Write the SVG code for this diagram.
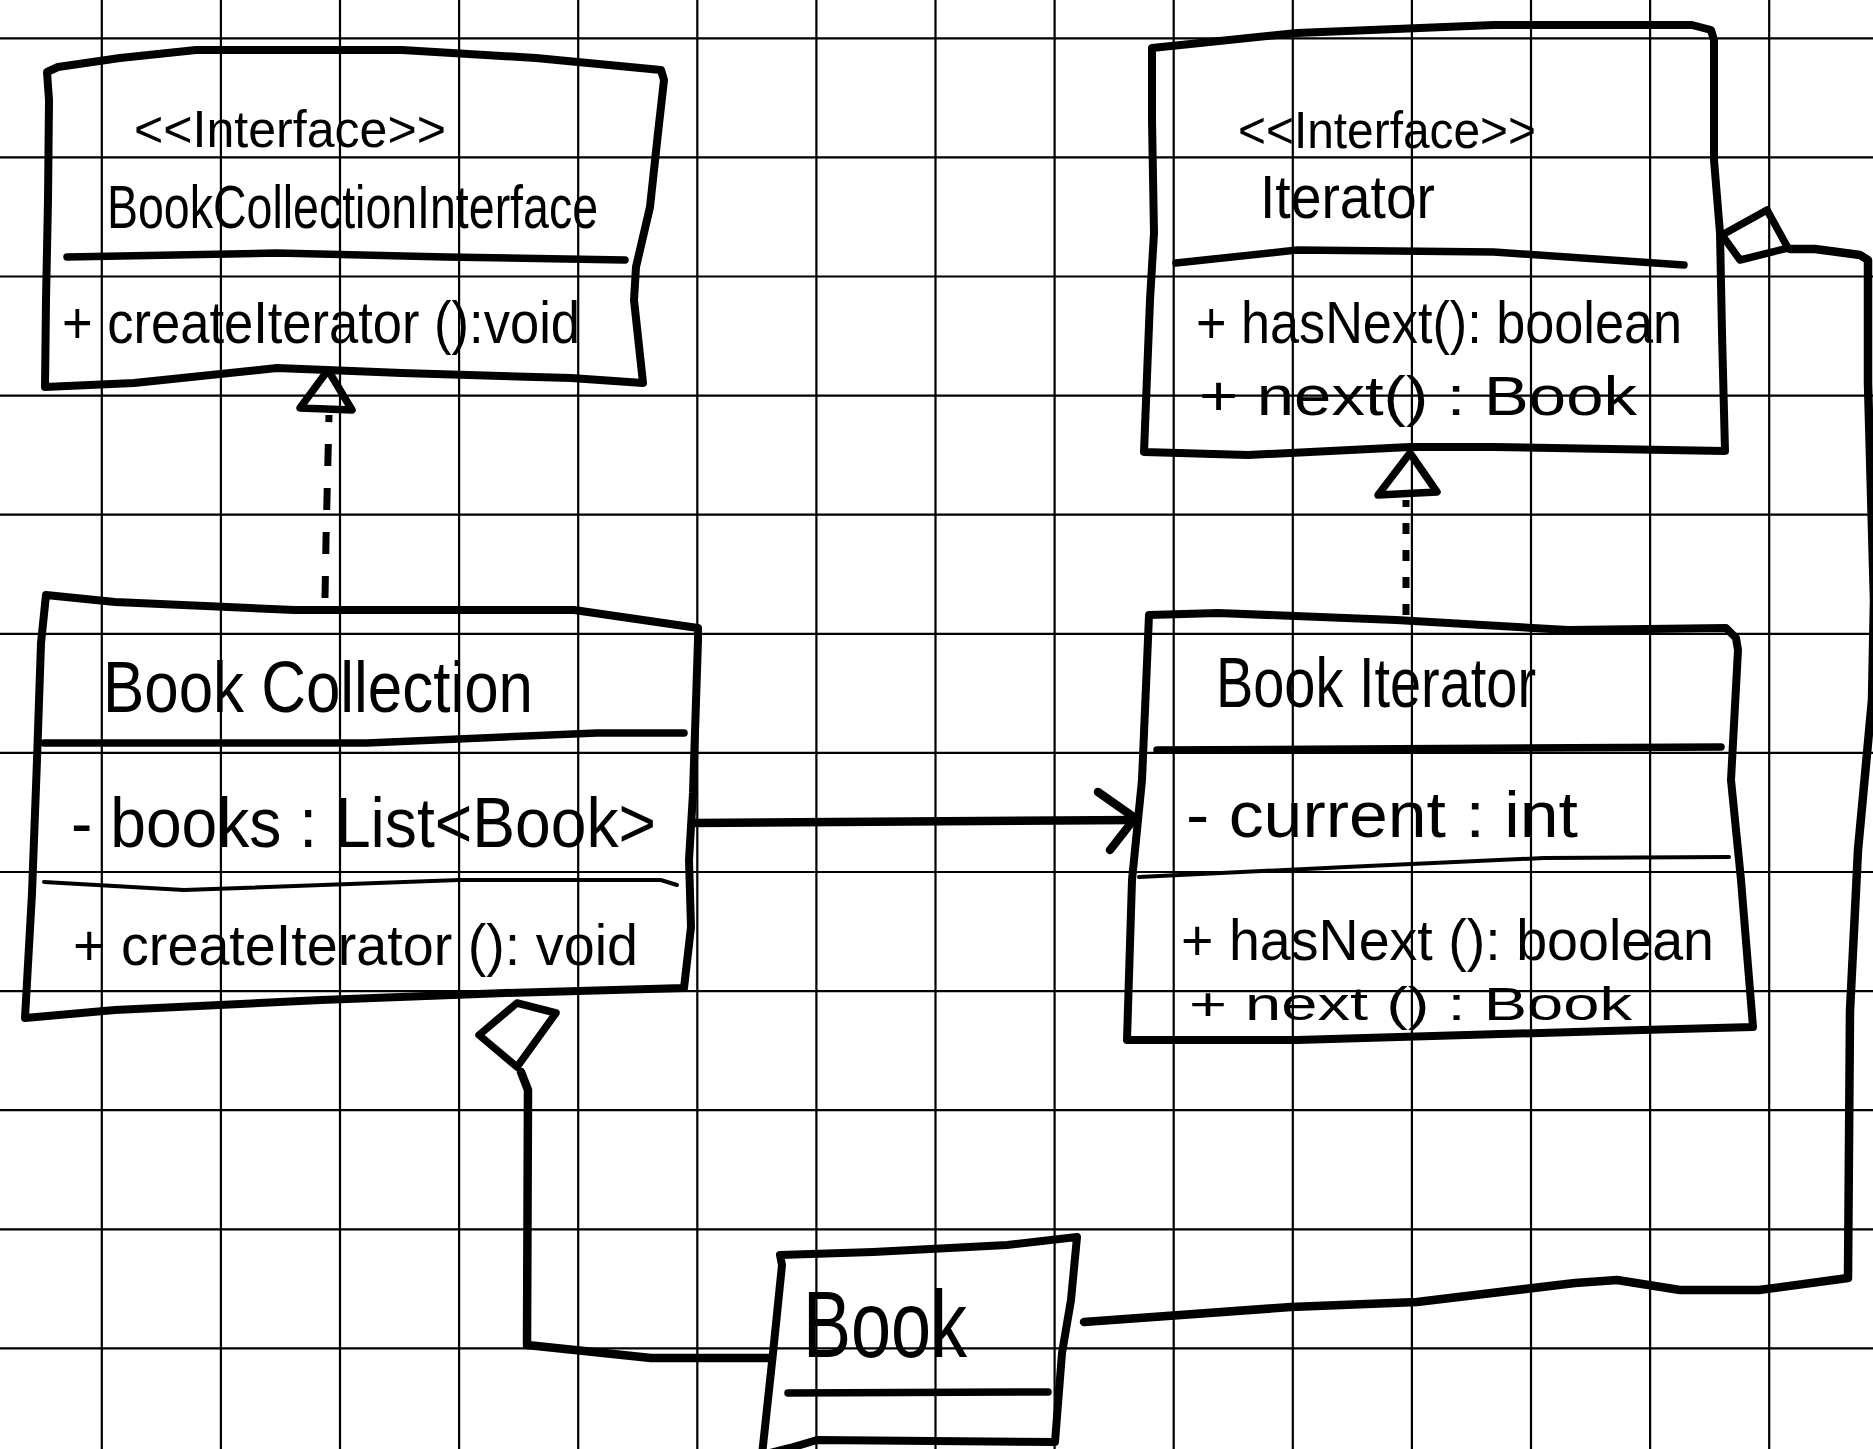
<svg xmlns="http://www.w3.org/2000/svg" width="1873" height="1449" viewBox="0 0 1873 1449">
<style>
.grid{stroke:#000;stroke-width:2.2;fill:none}
.box{stroke:#000;stroke-width:8;fill:none;stroke-linejoin:round;stroke-linecap:round}
.div{stroke:#000;stroke-width:7.5;fill:none;stroke-linecap:round}
.thin{stroke:#000;stroke-width:4;fill:none;stroke-linecap:round}
.con{stroke:#000;stroke-width:8.5;fill:none;stroke-linejoin:round;stroke-linecap:round}
.dash{stroke:#000;stroke-width:7;fill:none}
.head{stroke:#000;stroke-width:7.5;fill:none;stroke-linejoin:round;stroke-linecap:round}
text{font-family:"Liberation Sans","DejaVu Sans",sans-serif;fill:#000}
</style>
<rect width="1873" height="1449" fill="#fff"/>
<g id="grid" class="grid">
<path d="M101.8,0V1449M220.9,0V1449M340,0V1449M459.1,0V1449M578.2,0V1449M697.3,0V1449M816.4,0V1449M935.5,0V1449M1054.6,0V1449M1173.7,0V1449M1292.8,0V1449M1411.9,0V1449M1531,0V1449M1650.1,0V1449M1769.2,0V1449"/>
<path d="M0,38.3H1873M0,157.4H1873M0,276.5H1873M0,395.6H1873M0,514.7H1873M0,633.8H1873M0,752.9H1873M0,872H1873M0,991.1H1873M0,1110.2H1873M0,1229.3H1873M0,1348.4H1873"/>
</g>
<g id="connectors">
<path class="dash" d="M325,598 L326,540 L329,415" stroke-dasharray="22 22"/>
<path class="head" d="M328,370 L352,410 L300,408 Z"/>
<path class="dash" d="M1406,615 L1406,500" stroke-dasharray="11 16"/>
<path class="head" d="M1410,453 L1437,492 L1378,495 Z"/>
<path class="con" d="M693,823 L1137,820"/>
<path class="con" d="M1098,792 L1135,818 L1110,850"/>
<path class="head" d="M517,1003 L556,1013 L517,1067 L479,1035 Z"/>
<path class="con" d="M521,1072 L528,1090 L527,1345 L651,1358 L771,1358"/>
<path class="head" d="M1722,235 L1767,210 L1788,248 L1740,260 Z"/>
<path class="con" d="M1790,249 L1815,249 L1860,255 L1868,260 L1868,383 L1874,600 L1872,700 L1858,850 L1850,1011 L1848,1278 L1759,1290 L1680,1290 L1617,1280 L1575,1283 L1417,1302 L1291,1307 L1084,1322"/>
</g>
<g id="BookCollectionInterface">
<path class="box" d="M47,72 L58,67 L120,58 L196,50 L402,50 L536,58 L661,70 L664,80 L658,133 L650,207 L636,267 L634,300 L643,383 L571,378 L402,373 L277,368 L134,383 L45,387 L46,300 L48,200 L49,100 Z"/>
<path class="div" d="M67,257 L277,253 L446,257 L625,260"/>
<text x="134" y="147" font-size="52" textLength="312" lengthAdjust="spacingAndGlyphs">&lt;&lt;Interface&gt;&gt;</text>
<text x="107" y="228" font-size="62" textLength="491" lengthAdjust="spacingAndGlyphs">BookCollectionInterface</text>
<text x="62" y="343" font-size="60" textLength="518" lengthAdjust="spacingAndGlyphs">+ createIterator ():void</text>
</g>
<g id="Iterator">
<path class="box" d="M1152,48 L1297,33 L1494,25 L1692,25 L1711,30 L1714,40 L1714,160 L1720,233 L1722,333 L1725,451 L1494,447 L1410,447 L1248,455 L1144,452 L1150,300 L1154,233 L1152,120 Z"/>
<path class="div" d="M1176,263 L1297,250 L1494,252 L1684,265"/>
<text x="1238" y="148" font-size="52" textLength="298" lengthAdjust="spacingAndGlyphs">&lt;&lt;Interface&gt;&gt;</text>
<text x="1260" y="218" font-size="62" textLength="175" lengthAdjust="spacingAndGlyphs">Iterator</text>
<text x="1196" y="343" font-size="60" textLength="486" lengthAdjust="spacingAndGlyphs">+ hasNext(): boolean</text>
<text x="1199" y="415" font-size="56" textLength="438" lengthAdjust="spacingAndGlyphs">+ next() : Book</text>
</g>
<g id="BookCollection">
<path class="box" d="M46,595 L115,602 L294,610 L574,610 L698,628 L698,640 L693,793 L689,860 L691,927 L684,988 L505,993 L321,1000 L115,1010 L25,1018 L32,893 L37,760 L41,643 Z"/>
<path class="div" d="M44,743 L367,743 L597,733 L684,733"/>
<path class="thin" d="M44,882 L184,890 L459,880 L661,880 L677,885"/>
<text x="103" y="712" font-size="72" textLength="430" lengthAdjust="spacingAndGlyphs">Book Collection</text>
<text x="71" y="847" font-size="70" textLength="585" lengthAdjust="spacingAndGlyphs">- books : List&lt;Book&gt;</text>
<text x="73" y="965" font-size="58" textLength="565" lengthAdjust="spacingAndGlyphs">+ createIterator (): void</text>
</g>
<g id="BookIterator">
<path class="box" d="M1149,615 L1218,613 L1396,620 L1568,630 L1726,628 L1736,638 L1738,650 L1731,780 L1741,880 L1753,1027 L1642,1030 L1297,1040 L1127,1040 L1132,880 L1142,780 L1147,663 Z"/>
<path class="div" d="M1157,750 L1721,747"/>
<path class="thin" d="M1139,877 L1346,867 L1544,858 L1729,857"/>
<text x="1216" y="707" font-size="70" textLength="320" lengthAdjust="spacingAndGlyphs">Book Iterator</text>
<text x="1186" y="837" font-size="64" textLength="392" lengthAdjust="spacingAndGlyphs">- current : int</text>
<text x="1181" y="960" font-size="58" textLength="533" lengthAdjust="spacingAndGlyphs">+ hasNext (): boolean</text>
<text x="1189" y="1020" font-size="46" textLength="443" lengthAdjust="spacingAndGlyphs">+ next () : Book</text>
</g>
<g id="Book">
<path class="box" d="M780,1255 L873,1252 L1007,1245 L1077,1237 L1071,1300 L1062,1353 L1055,1442 L817,1440 L790,1448 L762,1455 L773,1353 L782,1265 Z"/>
<path class="div" d="M788,1393 L1048,1392"/>
<text x="803" y="1357" font-size="95" textLength="164" lengthAdjust="spacingAndGlyphs">Book</text>
</g>
</svg>
